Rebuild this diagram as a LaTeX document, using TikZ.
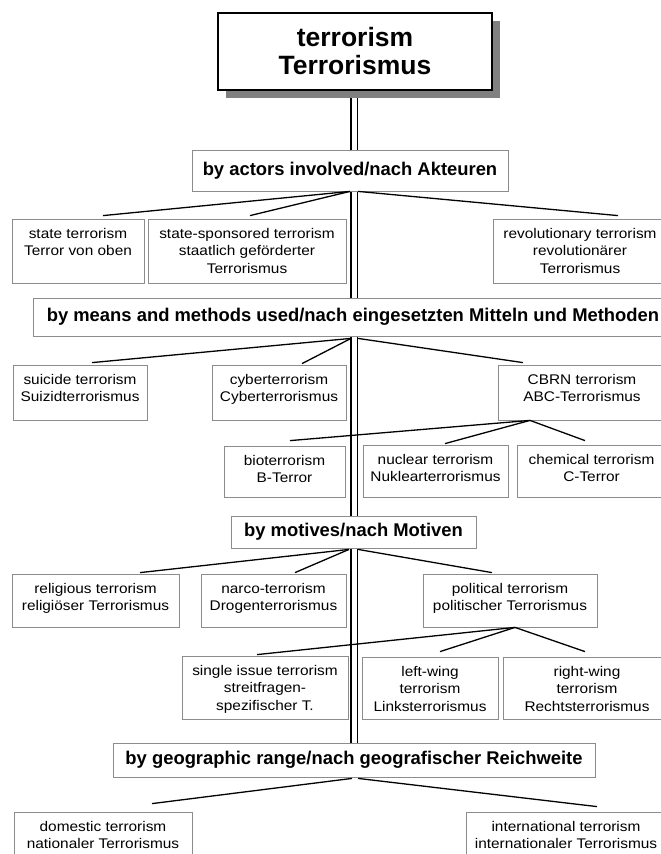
\documentclass[tikz,border=0pt]{standalone}
\usepackage{fontspec}
\setmainfont{Liberation Sans}
\newfontfamily\leaffont[FakeStretch=1.1]{Liberation Sans}
\usetikzlibrary{shadows}
\pgfdeclarelayer{background}
\pgfsetlayers{background,main}

% fixed-size cell with its lines hanging from the top edge
\newcommand{\cellbox}[3]{\parbox[c][#2][t]{#1}{\centering\rule{0pt}{19pt}#3}}

\tikzset{
  titlebox/.style={draw=black, line width=2pt, fill=white, inner sep=0pt,
    minimum width=274pt, minimum height=77pt, align=center,
    font=\bfseries\fontsize{26.5}{28}\selectfont,
    drop shadow={shadow xshift=8pt, shadow yshift=-8pt, opacity=1, fill=black!50}},
  groupbox/.style={draw=black!45, line width=0.8pt, fill=white, inner sep=0pt,
    font=\bfseries\fontsize{18.4}{22}\selectfont},
  leafbox/.style={draw=black!45, line width=0.8pt, fill=white, inner sep=0pt,
    font=\leaffont\fontsize{14}{17.5}\selectfont},
  link/.style={line width=1.3pt, black},
  spine/.style={double, double distance=4.6pt, line width=1.8pt}
}

\begin{document}
\begin{tikzpicture}[x=1pt, y=-1pt]
\useasboundingbox (0,0) rectangle (661,854);
\begin{pgfonlayer}{background}
  \fill[white] (0,0) rectangle (661,854);
\end{pgfonlayer}
\clip (0,0) rectangle (661,854);

% root
\node[titlebox] (top) at (355,51.5) {terrorism\\Terrorismus};

% classification headings
\node[groupbox, minimum width=316pt, minimum height=41pt] (k1) at (350,170.5) {by actors involved/nach Akteuren};
\node[groupbox, minimum width=640pt, minimum height=38pt] (k2) at (353,317) {by means and methods used/nach eingesetzten Mitteln und Methoden};
\node[groupbox, minimum width=245pt, minimum height=32pt] (k3) at (353.5,532) {by motives/nach Motiven};
\node[groupbox, minimum width=482pt, minimum height=34pt] (k4) at (354,760) {by geographic range/nach geografischer Reichweite};

% by actors
\node[leafbox] (s1) at (78,251) {\cellbox{132pt}{64pt}{state terrorism\\Terror von oben}};
\node[leafbox] (s2) at (247,251) {\cellbox{198pt}{64pt}{state-sponsored terrorism\\staatlich geförderter\\Terrorismus}};
\node[leafbox] (s3) at (580,251) {\cellbox{174pt}{64pt}{revolutionary terrorism\\revolutionärer\\Terrorismus}};

% by means and methods
\node[leafbox] (m1) at (80,392.5) {\cellbox{134pt}{55pt}{suicide terrorism\\Suizidterrorismus}};
\node[leafbox] (m2) at (279,392.5) {\cellbox{134pt}{55pt}{cyberterrorism\\Cyberterrorismus}};
\node[leafbox] (m3) at (582,392.5) {\cellbox{168pt}{55pt}{CBRN terrorism\\ABC-Terrorismus}};
\node[leafbox] (c1) at (284.5,471.5) {\cellbox{121pt}{51pt}{bioterrorism\\B-Terror}};
\node[leafbox] (c2) at (435.5,471) {\cellbox{145pt}{52pt}{nuclear terrorism\\Nuklearterrorismus}};
\node[leafbox] (c3) at (591.5,471) {\cellbox{149pt}{52pt}{chemical terrorism\\C-Terror}};

% by motives
\node[leafbox] (v1) at (95.5,600.5) {\cellbox{167pt}{53pt}{religious terrorism\\religiöser Terrorismus}};
\node[leafbox] (v2) at (273.5,600.5) {\cellbox{145pt}{53pt}{narco-terrorism\\Drogenterrorismus}};
\node[leafbox] (v3) at (510,600.5) {\cellbox{174pt}{53pt}{political terrorism\\politischer Terrorismus}};
\node[leafbox] (p1) at (265,687.5) {\cellbox{166pt}{63pt}{single issue terrorism\\streitfragen-\\spezifischer T.}};
\node[leafbox] (p2) at (430,688) {\cellbox{136pt}{62pt}{left-wing\\terrorism\\Linksterrorismus}};
\node[leafbox] (p3) at (587,688) {\cellbox{168pt}{62pt}{right-wing\\terrorism\\Rechtsterrorismus}};

% by geographic range
\node[leafbox] (g1) at (103,841) {\cellbox{178pt}{58pt}{domestic terrorism\\nationaler Terrorismus}};
\node[leafbox] (g2) at (566,841) {\cellbox{200pt}{58pt}{international terrorism\\internationaler Terrorismus}};

% main trunk behind the headings
\begin{pgfonlayer}{background}
  \draw[spine] ([xshift=-0.75pt]top.south) -- ([xshift=0.25pt]k4.north);
\end{pgfonlayer}

% branches
\draw[link] (k1.south) -- ([xshift=25pt,yshift=3pt]s1.north);
\draw[link] (k1.south) -- ([xshift=3pt,yshift=3pt]s2.north);
\draw[link] ([xshift=8pt]k1.south) -- ([xshift=38pt,yshift=3pt]s3.north);

\draw[link] ([xshift=-2pt,yshift=-2pt]k2.south) -- ([xshift=12pt,yshift=2pt]m1.north);
\draw[link] ([xshift=-2pt,yshift=-2pt]k2.south) -- ([xshift=23pt,yshift=1pt]m2.north);
\draw[link] ([xshift=5pt,yshift=-2pt]k2.south) -- ([xshift=-59pt,yshift=2pt]m3.north);

\draw[link] ([xshift=-52pt]m3.south) -- ([xshift=5.5pt,yshift=5pt]c1.north);
\draw[link] ([xshift=-52pt]m3.south) -- ([xshift=9.5pt,yshift=1pt]c2.north);
\draw[link] ([xshift=-52pt]m3.south) -- ([xshift=-6.5pt,yshift=4pt]c3.north);

\draw[link] ([xshift=-4.5pt,yshift=-1pt]k3.south) -- ([xshift=44.5pt,yshift=1pt]v1.north);
\draw[link] ([xshift=-4.5pt,yshift=-1pt]k3.south) -- ([xshift=21.5pt,yshift=1pt]v2.north);
\draw[link] ([xshift=4.5pt,yshift=-1pt]k3.south) -- ([xshift=-18pt,yshift=1pt]v3.north);

\draw[link] ([xshift=5pt]v3.south) -- ([xshift=-8pt,yshift=1pt]p1.north);
\draw[link] ([xshift=5pt]v3.south) -- ([xshift=10pt,yshift=5pt]p2.north);
\draw[link] ([xshift=5pt]v3.south) -- ([xshift=-2pt,yshift=5pt]p3.north);

\draw[link] ([xshift=-2pt,yshift=-1pt]k4.south) -- ([xshift=49pt,yshift=8pt]g1.north);
\draw[link] ([xshift=4pt,yshift=-1pt]k4.south) -- ([xshift=31pt,yshift=5pt]g2.north);
\end{tikzpicture}
\end{document}
